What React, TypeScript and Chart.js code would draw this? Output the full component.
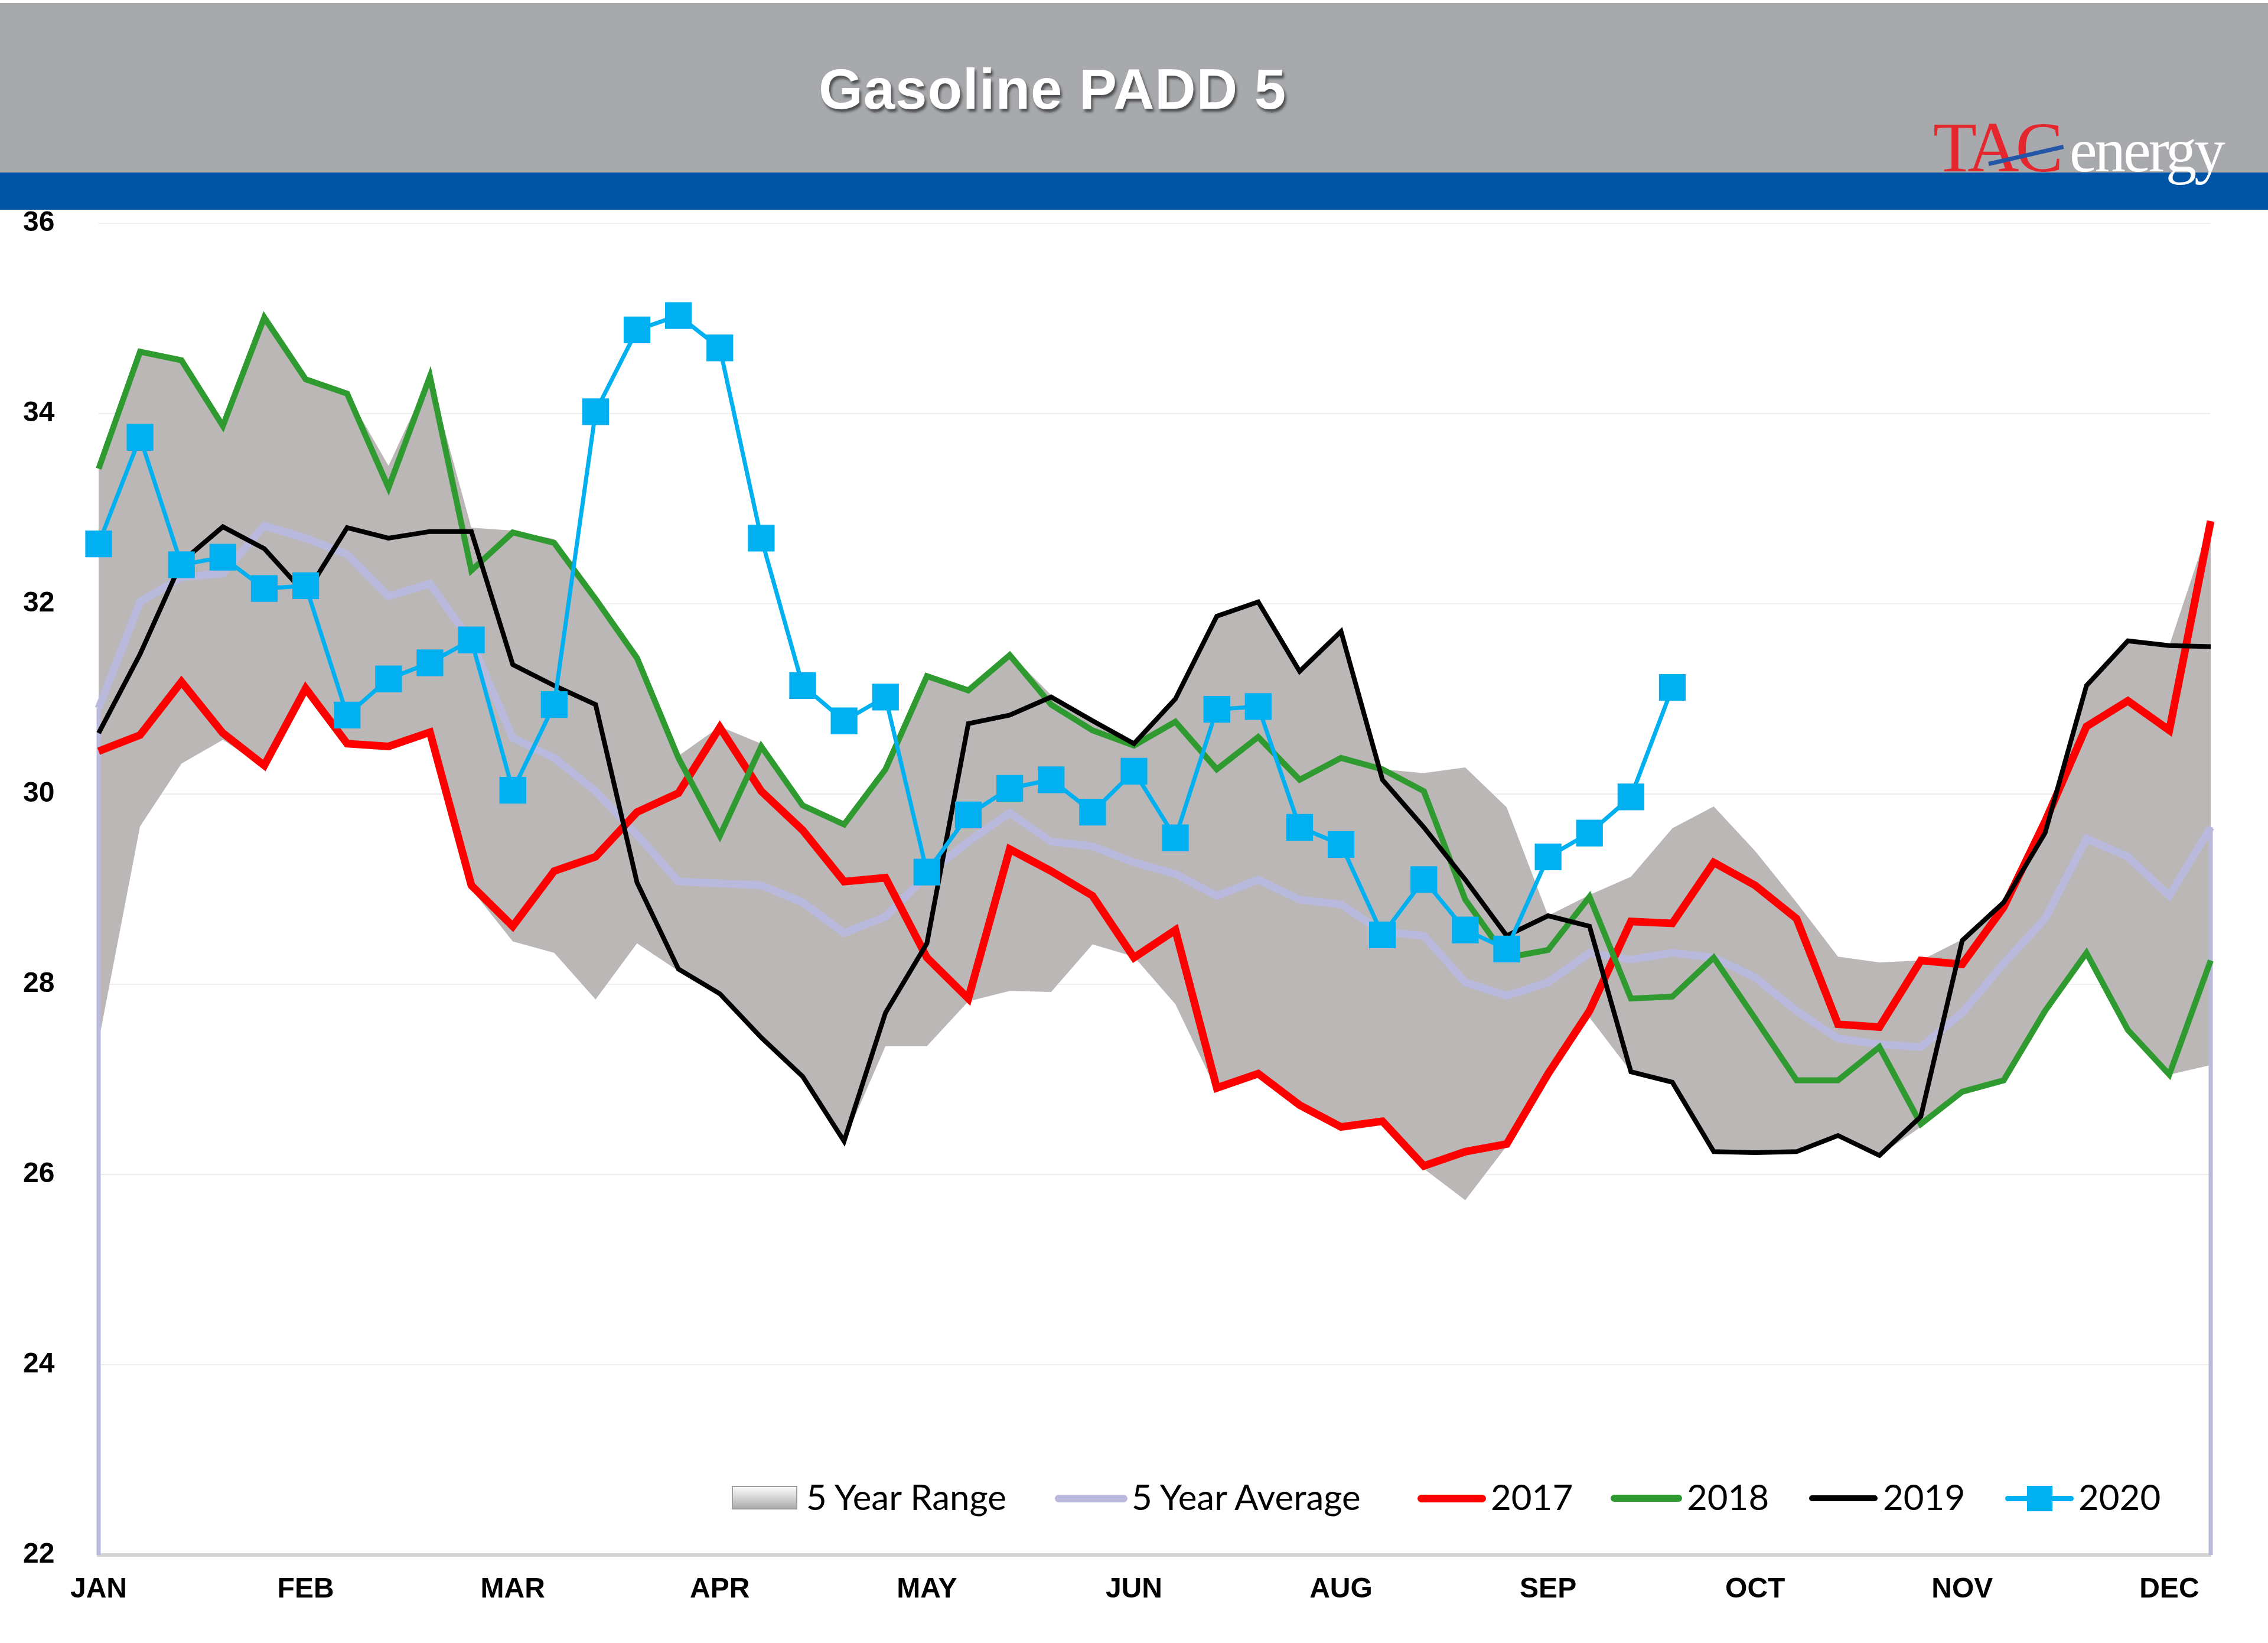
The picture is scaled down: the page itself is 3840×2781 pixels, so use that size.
import React, { useEffect, useRef } from 'react';
import { Chart, registerables } from 'chart.js';

Chart.register(...registerables);

// ---- categories / ticks ----
const MONTH_TICKS = ['JAN', 'FEB', 'MAR', 'APR', 'MAY', 'JUN', 'AUG', 'SEP', 'OCT', 'NOV', 'DEC'];
const WEEKS = Array.from({ length: 52 }, (_, i) => `W${i + 1}`);
const Y_MIN = 22;
const Y_MAX = 36;
const Y_STEP = 2;

// ---- series ----
const RANGE_LOW = [27.4, 29.66, 30.32, 30.57, 30.28, 31.08, 30.5, 30.47, 30.62, 29.0,
  28.45, 28.33, 27.84, 28.43, 28.14, 27.9, 27.44, 27.03, 26.35, 27.35,
  27.35, 27.82, 27.93, 27.92, 28.42, 28.29, 27.79, 26.88, 27.03, 26.7,
  26.47, 26.53, 26.06, 25.73, 26.3, 27.0, 27.65, 27.08, 26.97, 26.24,
  26.23, 26.24, 26.41, 26.2, 26.5, 26.87, 26.99, 27.72, 28.33, 27.52,
  27.05, 27.15];

const RANGE_HIGH = [33.42, 34.65, 34.56, 33.9, 35.01, 34.36, 34.21, 33.45, 34.39, 32.8,
  32.77, 32.68, 32.05, 31.43, 30.4, 30.71, 30.53, 29.88, 29.68, 30.26,
  31.26, 31.08, 31.48, 31.04, 30.77, 30.55, 31.0, 31.89, 32.02, 31.29,
  31.72, 30.26, 30.22, 30.28, 29.86, 28.72, 28.94, 29.13, 29.64, 29.87,
  29.4, 28.86, 28.29, 28.23, 28.25, 28.47, 28.86, 29.71, 31.14, 31.61,
  31.56, 32.87];

const AVG_5Y = [30.9, 32.02, 32.28, 32.32, 32.82, 32.69, 32.52, 32.08, 32.21, 31.6,
  30.59, 30.38, 30.03, 29.57, 29.08, 29.06, 29.04, 28.86, 28.54, 28.71,
  29.15, 29.5, 29.8, 29.5, 29.45, 29.28, 29.16, 28.93, 29.1, 28.89,
  28.84, 28.55, 28.51, 28.02, 27.88, 28.02, 28.33, 28.26, 28.33, 28.28,
  28.07, 27.72, 27.43, 27.37, 27.34, 27.7, 28.22, 28.69, 29.53, 29.34,
  28.93, 29.65];

const Y2017 = [30.45, 30.62, 31.18, 30.64, 30.3, 31.11, 30.53, 30.5, 30.65, 29.04,
  28.61, 29.19, 29.34, 29.81, 30.01, 30.7, 30.03, 29.62, 29.08, 29.12,
  28.28, 27.85, 29.42, 29.19, 28.93, 28.28, 28.57, 26.91, 27.06, 26.73,
  26.5, 26.56, 26.09, 26.24, 26.32, 27.06, 27.72, 28.66, 28.64, 29.28,
  29.04, 28.69, 27.58, 27.55, 28.25, 28.21, 28.81, 29.71, 30.71, 30.98,
  30.67, 32.87];

const Y2018 = [33.42, 34.65, 34.56, 33.87, 35.01, 34.36, 34.21, 33.22, 34.39, 32.35,
  32.75, 32.64, 32.05, 31.43, 30.38, 29.56, 30.5, 29.88, 29.68, 30.26,
  31.24, 31.09, 31.46, 30.94, 30.67, 30.51, 30.76, 30.26, 30.6, 30.15,
  30.38, 30.26, 30.03, 28.89, 28.28, 28.36, 28.92, 27.85, 27.87, 28.28,
  27.64, 26.99, 26.99, 27.34, 26.53, 26.87, 26.99, 27.72, 28.33, 27.52,
  27.05, 28.25];

const Y2019 = [30.64, 31.47, 32.44, 32.81, 32.58, 32.1, 32.8, 32.69, 32.76, 32.76,
  31.36, 31.14, 30.94, 29.07, 28.16, 27.9, 27.44, 27.03, 26.35, 27.7,
  28.43, 30.74, 30.83, 31.02, 30.77, 30.53, 31.0, 31.87, 32.02, 31.29,
  31.71, 30.15, 29.65, 29.1, 28.51, 28.72, 28.61, 27.08, 26.97, 26.24,
  26.23, 26.24, 26.41, 26.2, 26.61, 28.46, 28.86, 29.59, 31.14, 31.61,
  31.56, 31.55];

const Y2020 = [32.63, 33.75, 32.41, 32.49, 32.16, 32.19, 30.83, 31.21, 31.38, 31.62,
  30.04, 30.94, 34.02, 34.88, 35.03, 34.69, 32.69, 31.14, 30.77, 31.02,
  29.18, 29.78, 30.06, 30.15, 29.81, 30.24, 29.54, 30.89, 30.92, 29.65,
  29.47, 28.52, 29.1, 28.57, 28.37, 29.34, 29.59, 29.97, 31.12];

// ---- styles ----
const RANGE_COLOR = '#BBB7B7';
const AVG_COLOR = '#B9B9DD';
const C2017 = '#FF0000';
const C2018 = '#2F9A2F';
const C2019 = '#000000';
const C2020 = '#00B0F0';
const TICK_FONT = { family: "'Liberation Sans', Arial, sans-serif", size: 48, weight: 'bold' as const };
const LEGEND_FONT = "Lato, 'Open Sans', sans-serif";

const avgEdgePlugin = {
  id: 'avgEdges',
  afterDatasetDraw(chart: any, args: any) {
    if (args.index !== 2) return;
    const { ctx, chartArea, scales } = chart;
    ctx.save();
    ctx.strokeStyle = AVG_COLOR;
    ctx.lineWidth = 7;
    [0, AVG_5Y.length - 1].forEach((i) => {
      const px = scales.x.getPixelForValue(i);
      ctx.beginPath();
      ctx.moveTo(px, scales.y.getPixelForValue(AVG_5Y[i]));
      ctx.lineTo(px, chartArea.bottom);
      ctx.stroke();
    });
    ctx.restore();
  },
};

function GasChart() {
  const ref = useRef<HTMLCanvasElement | null>(null);
  useEffect(() => {
    if (!ref.current) return;
    const line = (label: string, data: number[], color: string, width: number, order: number) => ({
      label, data, borderColor: color, backgroundColor: color, borderWidth: width,
      pointRadius: 0, fill: false, tension: 0, order,
    });
    const chart = new Chart(ref.current, {
      type: 'line',
      data: {
        labels: WEEKS,
        datasets: [
          { label: 'low', data: RANGE_LOW, borderColor: 'transparent', borderWidth: 0, pointRadius: 0, fill: false, order: 20 },
          { label: '5 Year Range', data: RANGE_HIGH, borderColor: 'transparent', borderWidth: 0, pointRadius: 0,
            backgroundColor: RANGE_COLOR, fill: '-1', order: 19 },
          line('5 Year Average', AVG_5Y, AVG_COLOR, 13, 10),
          line('2017', Y2017, C2017, 13, 4),
          line('2018', Y2018, C2018, 10, 3),
          line('2019', Y2019, C2019, 8, 2),
          { label: '2020', data: Y2020, borderColor: C2020, backgroundColor: C2020, borderWidth: 7,
            pointStyle: 'rect', pointRadius: 32, pointBorderWidth: 0, pointBackgroundColor: C2020,
            fill: false, tension: 0, order: 1 },
        ],
      },
      options: {
        responsive: false,
        maintainAspectRatio: false,
        animation: false,
        devicePixelRatio: 1,
        layout: { padding: { left: 39, top: 378, right: 97, bottom: 0 } },
        plugins: { legend: { display: false }, tooltip: { enabled: false }, title: { display: false } },
        scales: {
          x: {
            type: 'category',
            offset: false,
            grid: { display: false, drawTicks: false },
            border: { display: true, color: '#D3D3D3', width: 6 },
            ticks: {
              autoSkip: false, maxRotation: 0, minRotation: 0, padding: 30,
              color: '#000', font: TICK_FONT,
              callback: (_v: any, i: number) => (i % 5 === 0 && MONTH_TICKS[i / 5]) ? MONTH_TICKS[i / 5] : '',
            },
            afterFit: (s: any) => { s.height = 149; },
          },
          y: {
            min: Y_MIN, max: Y_MAX,
            grid: { color: '#EEEEEE', lineWidth: 2, drawTicks: false },
            border: { display: false },
            ticks: { stepSize: Y_STEP, color: '#000', font: TICK_FONT, crossAlign: 'far', padding: 0 },
            afterFit: (s: any) => { s.width = 128; },
          },
        },
      },
      plugins: [avgEdgePlugin],
    } as any);
    return () => chart.destroy();
  }, []);
  return <canvas ref={ref} width={3840} height={2781} style={{ position: 'absolute', left: 0, top: 0, display: 'block' }} />;
}

const legendText: React.CSSProperties = {
  position: 'absolute', top: 2503, fontFamily: LEGEND_FONT, fontSize: 60, lineHeight: '60px',
  color: '#000', whiteSpace: 'nowrap',
};

function LegendLine({ left, width, color, h = 12 }: { left: number; width: number; color: string; h?: number }) {
  return <div style={{ position: 'absolute', left, top: 2536 - h / 2, width, height: h, background: color, borderRadius: h / 2 }} />;
}

export default function App() {
  return (
    <div style={{ position: 'absolute', left: 0, top: 0, width: 3840, height: 2781, background: '#fff', overflow: 'hidden' }}>
      <GasChart />
      {/* header */}
      <div style={{ position: 'absolute', left: 0, top: 5, width: 3840, height: 287, background: '#A7A9AC' }} />
      <div style={{ position: 'absolute', left: 0, top: 292, width: 3840, height: 63, background: '#0054A6' }} />
      <div style={{
        position: 'absolute', left: 1782, top: 103, transform: 'translateX(-50%)', whiteSpace: 'nowrap',
        fontFamily: "'Liberation Sans', Arial, sans-serif", fontWeight: 'bold', fontSize: 96, lineHeight: '96px',
        color: '#fff', letterSpacing: 1, textShadow: '3px 5px 4px rgba(0,0,0,0.55)',
      }}>Gasoline PADD 5</div>
      {/* logo */}
      <div style={{
        position: 'absolute', left: 3273, top: 189, fontFamily: "'Liberation Serif', serif", fontSize: 121,
        lineHeight: '121px', color: '#E5262D', letterSpacing: -6, whiteSpace: 'nowrap',
      }}>TAC</div>
      <div style={{
        position: 'absolute', left: 3504, top: 202, fontFamily: "'Liberation Serif', serif", fontSize: 105,
        lineHeight: '105px', color: '#fff', letterSpacing: -4, whiteSpace: 'nowrap',
      }}>energy</div>
      <div style={{
        position: 'absolute', left: 3367, top: 274, width: 130, height: 7, background: '#2356A6',
        transform: 'rotate(-12.9deg)', transformOrigin: '0 50%',
      }} />
      {/* legend */}
      <div style={{
        position: 'absolute', left: 1239, top: 2515, width: 111, height: 40, boxSizing: 'border-box',
        border: '2px solid #9E9E9E', background: 'linear-gradient(to bottom, #FBFBFB 0%, #D9D9D9 45%, #ABABAB 100%)',
      }} />
      <div style={{ ...legendText, left: 1365 }}>5 Year Range</div>
      <LegendLine left={1786} width={123} color={AVG_COLOR} h={13} />
      <div style={{ ...legendText, left: 1916 }}>5 Year Average</div>
      <LegendLine left={2400} width={116} color={C2017} h={13} />
      <div style={{ ...legendText, left: 2524 }}>2017</div>
      <LegendLine left={2727} width={121} color={C2018} h={12} />
      <div style={{ ...legendText, left: 2856 }}>2018</div>
      <LegendLine left={3063} width={116} color={C2019} h={10} />
      <div style={{ ...legendText, left: 3188 }}>2019</div>
      <LegendLine left={3395} width={116} color={C2020} h={9} />
      <div style={{ position: 'absolute', left: 3432, top: 2515, width: 43, height: 43, background: C2020 }} />
      <div style={{ ...legendText, left: 3519 }}>2020</div>
    </div>
  );
}
